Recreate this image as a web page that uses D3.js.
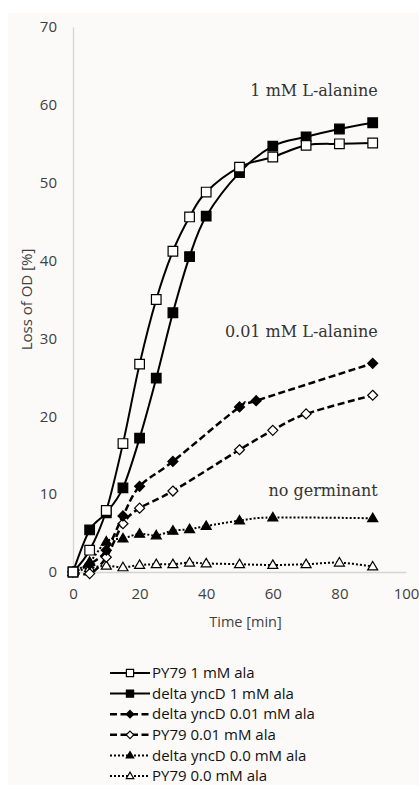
<!DOCTYPE html>
<html>
<head>
<meta charset="utf-8">
<script src="https://cdn.jsdelivr.net/npm/d3@7"></script>
<style>
  body { margin: 0; background: #fff; }
  svg { display: block; }
</style>
</head>
<body>
<svg id="chart"></svg>
<script>
// data
var py79_1mM_t = [0, 5, 10, 15, 20, 25, 30, 35, 40, 50, 60, 70, 80, 90];
var py79_1mM_v = [0, 2.8, 7.9, 16.5, 26.7, 35.0, 41.2, 45.6, 48.8, 52.0, 53.3, 54.8, 55.0, 55.1];

var yncD_1mM_t = [0, 5, 10, 15, 20, 25, 30, 35, 40, 50, 60, 70, 80, 90];
var yncD_1mM_v = [0, 5.4, 7.6, 10.8, 17.2, 24.9, 33.3, 40.5, 45.7, 51.3, 54.7, 55.9, 56.9, 57.7];

var yncD_001_t = [0, 5, 10, 15, 20, 30, 50, 55, 90];
var yncD_001_v = [0, 1.0, 2.8, 7.2, 11.0, 14.2, 21.2, 22.0, 26.8];

var py79_001_t = [0, 5, 10, 15, 20, 30, 50, 60, 70, 90];
var py79_001_v = [0, -0.2, 1.9, 6.2, 8.2, 10.4, 15.7, 18.2, 20.3, 22.7];

var yncD_00_t = [0, 5, 10, 15, 20, 25, 30, 35, 40, 50, 60, 90];
var yncD_00_v = [0, 1.3, 3.9, 4.3, 4.9, 4.7, 5.3, 5.5, 5.9, 6.6, 7.0, 6.9];

var py79_00_t = [0, 5, 10, 15, 20, 25, 30, 35, 40, 50, 60, 70, 80, 90];
var py79_00_v = [0, 0.5, 0.8, 0.6, 0.9, 1.0, 1.0, 1.2, 1.1, 1.0, 0.9, 1.0, 1.2, 0.7];

var xTicks = [0, 20, 40, 60, 80, 100];
var yTicks = [0, 10, 20, 30, 40, 50, 60, 70];

var seriesNames = ["PY79 1 mM ala", "delta yncD 1 mM ala", "delta yncD 0.01 mM ala",
                   "PY79 0.01 mM ala", "delta yncD 0.0 mM ala", "PY79 0.0 mM ala"];

var annotations = [
  { text: "1 mM L-alanine", x: 90, y: 61.2 },
  { text: "0.01 mM L-alanine", x: 90, y: 30.2 },
  { text: "no germinant", x: 90, y: 9.7 }
];

var width = 419, height = 785;
var margin = { top: 27, right: 13, bottom: 213, left: 73 };

var svg = d3.select("#chart").attr("width", width).attr("height", height);

svg.append("rect")
  .attr("x", 8).attr("y", 13)
  .attr("width", width - 8).attr("height", height - 13)
  .attr("fill", "#fcfaf9");

var xScale = d3.scaleLinear().domain([0, 100]).range([margin.left, width - margin.right]);
var yScale = d3.scaleLinear().domain([0, 70]).range([height - margin.bottom, margin.top]);

// axes
var xAxis = svg.append("g")
  .attr("transform", "translate(0," + yScale(0) + ")")
  .call(d3.axisBottom(xScale).tickValues(xTicks).tickSize(0).tickPadding(16));
var yAxis = svg.append("g")
  .attr("transform", "translate(" + xScale(0) + ",0)")
  .call(d3.axisLeft(yScale).tickValues(yTicks).tickSize(0).tickPadding(16));

[xAxis, yAxis].forEach(function (ax) {
  ax.select(".domain").attr("stroke", "#d4d4d0").attr("stroke-width", 1.3);
  ax.selectAll("text")
    .attr("fill", "#404040")
    .style("font-family", "'Open Sans', sans-serif")
    .style("font-size", "15px");
});

svg.append("text")
  .attr("x", (xScale(0) + xScale(100)) / 2 + 6)
  .attr("y", 627)
  .attr("text-anchor", "middle")
  .attr("fill", "#404040")
  .style("font-family", "'Open Sans', sans-serif")
  .style("font-size", "14.5px")
  .text("Time [min]");

svg.append("text")
  .attr("transform", "translate(32," + yScale(35) + ") rotate(-90)")
  .attr("text-anchor", "middle")
  .attr("fill", "#404040")
  .style("font-family", "'Open Sans', sans-serif")
  .style("font-size", "15px")
  .text("Loss of OD [%]");

// series styling
var styles = [
  { t: py79_1mM_t, v: py79_1mM_v, dash: null, sw: 2, marker: "square", fill: "#fff" },
  { t: yncD_1mM_t, v: yncD_1mM_v, dash: null, sw: 2, marker: "square", fill: "#000" },
  { t: yncD_001_t, v: yncD_001_v, dash: "7,3.5", sw: 2.5, marker: "diamond", fill: "#000" },
  { t: py79_001_t, v: py79_001_v, dash: "7,3.5", sw: 2.5, marker: "diamond", fill: "#fff" },
  { t: yncD_00_t, v: yncD_00_v, dash: "2,2", sw: 2, marker: "triangle", fill: "#000" },
  { t: py79_00_t, v: py79_00_v, dash: "2,2", sw: 2, marker: "triangle", fill: "#fff" }
];

function markerPath(type, r) {
  if (type === "square") return "M" + -r + "," + -r + "H" + r + "V" + r + "H" + -r + "Z";
  if (type === "diamond") return "M0," + -r + "L" + r + ",0L0," + r + "L" + -r + ",0Z";
  var h = r * 1.7;
  return "M0," + (-h * 0.6) + "L" + r + "," + (h * 0.4) + "H" + -r + "Z";
}
var markerR = { square: 4.8, diamond: 5, triangle: 5 };

var line = d3.line()
  .x((d) => xScale(d[0]))
  .y((d) => yScale(d[1]))
  .curve(d3.curveCardinal.tension(0));

function drawMarker(g, type, fill, x, y, scale) {
  g.append("path")
    .attr("d", markerPath(type, markerR[type] * scale))
    .attr("transform", "translate(" + x + "," + y + ")")
    .attr("fill", fill)
    .attr("stroke", "#000")
    .attr("stroke-width", 1.2);
}

// draw in reverse order so solid curves end up on top
styles.slice().reverse().forEach(function (s) {
  var pts = s.t.map((t, i) => [t, s.v[i]]);
  var g = svg.append("g");
  g.append("path")
    .attr("d", line(pts))
    .attr("fill", "none")
    .attr("stroke", "#000")
    .attr("stroke-width", s.sw)
    .attr("stroke-dasharray", s.dash);
  pts.forEach(function (p) {
    drawMarker(g, s.marker, s.fill, xScale(p[0]), yScale(p[1]), 1);
  });
});

// annotations
annotations.forEach(function (a) {
  svg.append("text")
    .attr("x", xScale(a.x) + 5)
    .attr("y", yScale(a.y))
    .attr("text-anchor", "end")
    .attr("fill", "#333")
    .style("font-family", "'DejaVu Serif', serif")
    .style("font-size", "16px")
    .text(a.text);
});

// legend
var legend = svg.append("g");
var legendTop = 673, legendStep = 20.6;
styles.forEach(function (s, i) {
  var y = legendTop + i * legendStep;
  legend.append("line")
    .attr("x1", 110).attr("x2", 150)
    .attr("y1", y).attr("y2", y)
    .attr("stroke", "#000")
    .attr("stroke-width", s.sw)
    .attr("stroke-dasharray", s.dash);
  drawMarker(legend, s.marker, s.fill, 130, y, 0.75);
  legend.append("text")
    .attr("x", 152)
    .attr("y", y)
    .attr("dy", "0.35em")
    .attr("fill", "#111")
    .style("font-family", "'Open Sans', sans-serif")
    .style("font-size", "15px")
    .text(seriesNames[i]);
});
</script>
</body>
</html>
